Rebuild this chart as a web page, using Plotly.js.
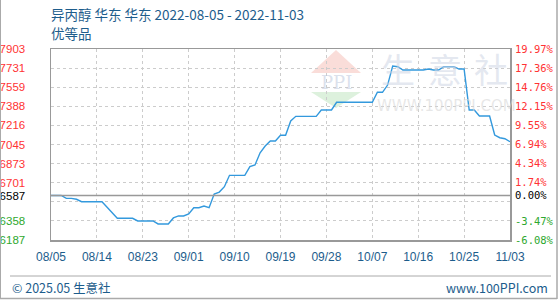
<!DOCTYPE html>
<html>
<head>
<meta charset="utf-8">
<script src="https://cdn.plot.ly/plotly-3.0.1.min.js"></script>
<style>
html,body{margin:0;padding:0;background:#fff;}
#chart{width:560px;height:300px;}
</style>
</head>
<body>
<div id="chart"></div>
<script>
// ---- data ----
const startDate = '2022-08-05';
const prices = [
  6587, 6587, 6587, 6561, 6561, 6553, 6531, 6531, 6531, 6531,
  6531, 6481, 6431, 6382, 6382, 6382, 6382, 6358, 6358, 6358,
  6358, 6331, 6331, 6331, 6385, 6403, 6403, 6421, 6477, 6477,
  6492, 6477, 6600, 6618, 6666, 6768, 6768, 6768, 6768, 6846,
  6861, 6971, 7031, 7076, 7076, 7128, 7128, 7256, 7298, 7298,
  7298, 7298, 7298, 7355, 7355, 7355, 7424, 7424, 7424, 7424,
  7424, 7424, 7424, 7424, 7514, 7514, 7579, 7750, 7744, 7714,
  7714, 7714, 7714, 7714, 7723, 7714, 7714, 7744, 7744, 7744,
  7723, 7723, 7355, 7355, 7301, 7301, 7301, 7130, 7106, 7097,
  7070
];
const baseValue = 6587;
const yTickVals = [6187, 6358.6, 6530.2, 6587, 6701.8, 6873.4, 7045, 7216.6, 7388.2, 7559.8, 7731.4, 7903];
const yTickLeft = ['6187', '6358', '', '6587', '6701', '6873', '7045', '7216', '7388', '7559', '7731', '7903'];
const yTickRight = ['-6.08%', '-3.47%', '', '0.00%', '1.74%', '4.34%', '6.94%', '9.55%', '12.15%', '14.76%', '17.36%', '19.97%'];
const xTickLabels = ['08/05', '08/14', '08/23', '09/01', '09/10', '09/19', '09/28', '10/07', '10/16', '10/25', '11/03'];
const titleLine1 = '异丙醇 华东 华东 2022-08-05 - 2022-11-03';
const titleLine2 = '优等品';
const footerLeft = '© 2025.05 生意社';
const footerRight = 'www.100PPI.com';
const watermarkChars = ['生', '意', '社'];

// ---- build dates ----
function addDays(s, n) {
  const d = new Date(s + 'T00:00:00Z');
  d.setUTCDate(d.getUTCDate() + n);
  return d.toISOString().slice(0, 10);
}
const dates = prices.map((_, i) => addDays(startDate, i));
const xTickVals = xTickLabels.map((_, i) => addDays(startDate, i * 9));

const RED = '#ff3333', GREEN = '#2ea82e', BLACK = '#000000';
function colorFor(v) { return Math.abs(v - baseValue) < 1 ? BLACK : (v > baseValue ? RED : GREEN); }
const leftText = yTickLeft.map((t, i) => t ? `<span style="color:${colorFor(yTickVals[i])}">${t}</span>` : '');
const rightText = yTickRight.map((t, i) => t ? `<span style="color:${colorFor(yTickVals[i])}">${t}</span>` : '');

const BLUE_TXT = '#1d5d8c';

// plot area in pixels
const L = 51, R = 510, T = 49, B = 240;
const px = x => (x - L) / (R - L);
const py = y => (B - y) / (B - T);

const traces = [
  {x: dates, y: prices, type: 'scatter', mode: 'lines',
   line: {color: '#3399dd', width: 1.4, shape: 'linear'}, hoverinfo: 'x+y', showlegend: false},
  {x: dates, y: prices, type: 'scatter', mode: 'lines', yaxis: 'y2',
   line: {color: 'rgba(0,0,0,0)', width: 0}, hoverinfo: 'skip', showlegend: false}
];

const axisCommon = {
  range: [6187, 7903], tickmode: 'array', tickvals: yTickVals,
  showgrid: true, gridcolor: '#cccccc', griddash: '3px,3px', gridwidth: 1,
  zeroline: false, ticks: '', fixedrange: true
};

const CJK = '"Noto Sans CJK SC", "DejaVu Sans", sans-serif';
const wmX = [398, 445, 491];

const layout = {
  width: 560, height: 300,
  margin: {l: L, r: 560 - R, t: T, b: 300 - B, pad: 0},
  paper_bgcolor: '#ffffff', plot_bgcolor: '#ffffff',
  showlegend: false,
  xaxis: {
    type: 'date', range: [dates[0], dates[dates.length - 1]],
    tickmode: 'array', tickvals: xTickVals, ticktext: xTickLabels,
    showgrid: true, gridcolor: '#cccccc', griddash: '3px,3px', gridwidth: 1,
    showline: true, linecolor: '#999999', linewidth: 1.5, mirror: true,
    zeroline: false, ticks: '', ticklabelstandoff: 5,
    tickfont: {family: '"Liberation Sans", Arial, sans-serif', size: 12, color: BLUE_TXT},
    fixedrange: true
  },
  yaxis: Object.assign({}, axisCommon, {
    side: 'left', ticktext: leftText,
    showline: true, linecolor: '#999999', linewidth: 1.5, mirror: true,
    ticklabelstandoff: 22,
    tickfont: {family: '"Liberation Sans", Arial, sans-serif', size: 11.5, color: RED}
  }),
  yaxis2: Object.assign({}, axisCommon, {
    overlaying: 'y', side: 'right', ticktext: rightText, showgrid: false,
    ticklabelstandoff: 4,
    tickfont: {family: '"DejaVu Sans Mono", monospace', size: 10.5, color: RED}
  }),
  shapes: [
    // watermark logo triangles
    {type: 'path', xref: 'paper', yref: 'paper', layer: 'below',
     path: `M ${px(311)} ${py(73)} L ${px(361)} ${py(73)} L ${px(336)} ${py(50)} Z`,
     fillcolor: 'rgba(245,180,170,0.45)', line: {width: 0}},
    {type: 'path', xref: 'paper', yref: 'paper', layer: 'below',
     path: `M ${px(311)} ${py(92)} L ${px(361)} ${py(92)} L ${px(336)} ${py(108)} Z`,
     fillcolor: 'rgba(180,225,180,0.45)', line: {width: 0}},
    // base line
    {type: 'line', xref: 'paper', yref: 'y', x0: 0, x1: 1, y0: baseValue, y1: baseValue,
     line: {color: '#999999', width: 1.5}},
    // footer line
    {type: 'line', xref: 'paper', yref: 'paper', x0: px(10), x1: px(551), y0: py(276), y1: py(276),
     line: {color: '#aaaaaa', width: 1}},
    // outer border
    {type: 'line', xref: 'paper', yref: 'paper', x0: px(0.5), x1: px(0.5), y0: py(0), y1: py(299),
     line: {color: '#aaaaaa', width: 1}},
    {type: 'line', xref: 'paper', yref: 'paper', x0: px(557), x1: px(557), y0: py(0), y1: py(299),
     line: {color: '#aaaaaa', width: 1.5}},
    {type: 'line', xref: 'paper', yref: 'paper', x0: px(0), x1: px(557), y0: py(298.5), y1: py(298.5),
     line: {color: '#aaaaaa', width: 1.5}}
  ],
  annotations: [
    {text: titleLine1, xref: 'paper', yref: 'paper', x: px(49), y: py(14), xanchor: 'left', yanchor: 'middle',
     showarrow: false, font: {family: CJK, size: 13.5, color: BLUE_TXT}},
    {text: titleLine2, xref: 'paper', yref: 'paper', x: px(49), y: py(33), xanchor: 'left', yanchor: 'middle',
     showarrow: false, font: {family: CJK, size: 13.5, color: BLUE_TXT}},
    {text: 'PPI', xref: 'paper', yref: 'paper', x: px(336), y: py(82), xanchor: 'center', yanchor: 'middle',
     showarrow: false, font: {family: '"DejaVu Serif", serif', size: 18, color: 'rgba(190,200,220,0.55)'}},
    ...watermarkChars.map((c, i) => ({
      text: c, xref: 'paper', yref: 'paper', x: px(wmX[i]), y: py(68), xanchor: 'center', yanchor: 'middle',
      showarrow: false, font: {family: CJK, size: 34, color: 'rgba(205,212,228,0.55)'}
    })),
    {text: 'WWW.100PPI.COM', xref: 'paper', yref: 'paper', x: px(446), y: py(106), xanchor: 'center', yanchor: 'middle',
     showarrow: false, font: {family: '"DejaVu Sans", sans-serif', size: 15, color: 'rgba(215,215,215,0.6)'}},
    {text: footerLeft, xref: 'paper', yref: 'paper', x: px(10), y: py(287), xanchor: 'left', yanchor: 'middle',
     showarrow: false, font: {family: CJK, size: 12.5, color: BLUE_TXT}},
    {text: footerRight, xref: 'paper', yref: 'paper', x: px(550), y: py(287), xanchor: 'right', yanchor: 'middle',
     showarrow: false, font: {family: CJK, size: 12.5, color: BLUE_TXT}}
  ]
};

Plotly.newPlot('chart', traces, layout, {displayModeBar: false, staticPlot: true});
</script>
</body>
</html>
